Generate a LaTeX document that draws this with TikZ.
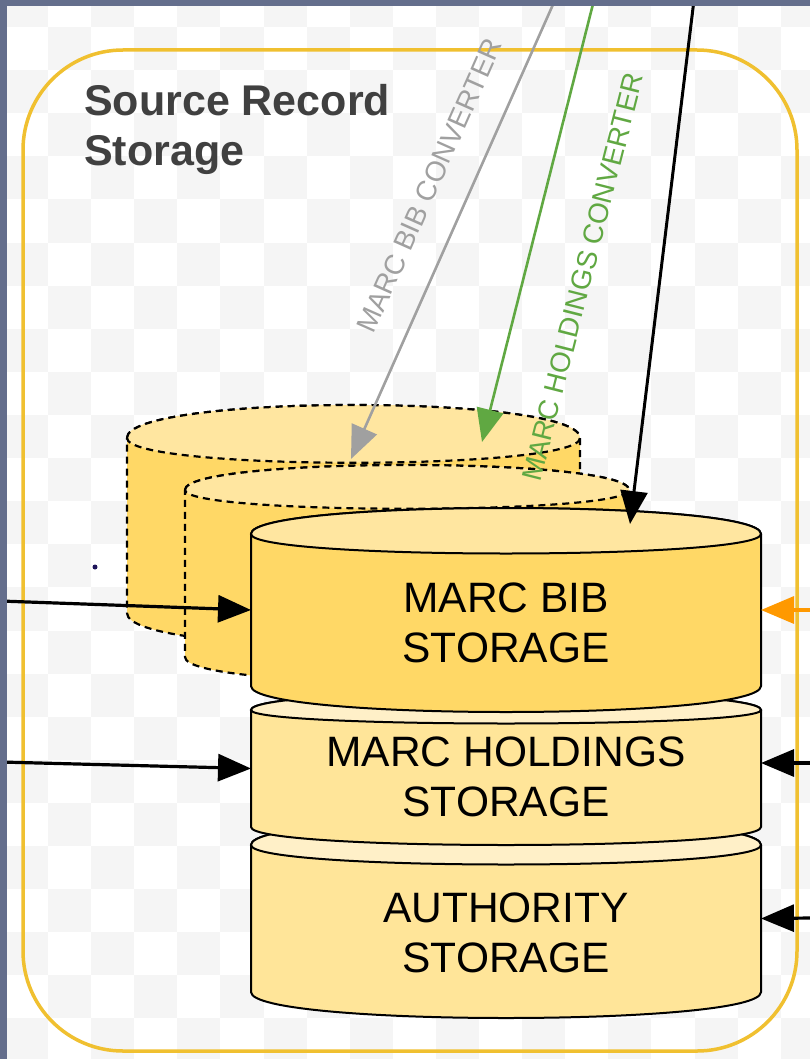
\documentclass[tikz,border=0pt]{standalone}
\usepackage{fontspec}
\setmainfont{Liberation Sans}
\usepackage{tikz}
\usetikzlibrary{arrows.meta,calc}

\definecolor{slate}{RGB}{100,110,140}
\definecolor{checker}{RGB}{245,245,245}
\definecolor{frameyellow}{RGB}{240,192,48}
\definecolor{bibbody}{RGB}{255,216,102}
\definecolor{bibtop}{RGB}{255,230,160}
\definecolor{storebody}{RGB}{255,229,153}
\definecolor{storetop}{RGB}{255,240,200}
\definecolor{convgray}{RGB}{160,160,160}
\definecolor{convgreen}{RGB}{96,168,66}
\definecolor{feedorange}{RGB}{255,153,0}
\definecolor{titlegray}{RGB}{64,64,64}
\definecolor{navy}{RGB}{30,20,90}

% cylinder: name, x, y, width, height, cap depth, line style, body fill, cap fill
\newcommand{\dbcyl}[9]{%
  \begin{scope}[shift={(#2,#3)}]
    \path[#7, fill=#8] (0,#6) .. controls (0,-#6/3) and (#4,-#6/3) .. (#4,#6)
      -- (#4,#5-#6) .. controls (#4,#5+#6/3) and (0,#5+#6/3) .. (0,#5-#6) -- cycle;
    \path[#7, fill=#9] (0,#6) .. controls (0,-#6/3) and (#4,-#6/3) .. (#4,#6)
      .. controls (#4,2*#6) and (0,2*#6) .. (0,#6) -- cycle;
    \node[cylbox, minimum width=#4pt, minimum height=#5pt] (#1) at (#4/2,#5/2) {};
  \end{scope}}

\begin{document}
\begin{tikzpicture}[x=1pt, y=-1pt,
    cylbox/.style = { inner sep=0pt, outer sep=0pt },
    cylline/.style = { draw=black, line width=2pt },
    ghostline/.style = { draw=black, line width=2.2pt, dash pattern=on 7pt off 5pt },
    srsframe/.style = { draw=frameyellow, line width=3.5pt, rounded corners=100pt },
    feed/.style = { line width=3.2pt, -{Triangle[length=33pt,width=27pt]} },
    storetext/.style = { align=center, font=\fontsize{42.5}{50}\selectfont },
    srstitle/.style = { align=left, inner sep=0pt, text=titlegray,
      font=\fontsize{43}{50}\selectfont\bfseries },
    convtext/.style = { sloped, inner sep=0pt, font=\fontsize{28}{30}\selectfont }]

  \useasboundingbox (0,0) rectangle (810,1059);
  \clip (0,0) rectangle (810,1059);

  % background
  \fill[white] (0,0) rectangle (810,1059);
  \foreach \c in {0,...,19} {
    \foreach \r in {0,...,25} {
      \pgfmathtruncatemacro\odd{mod(\c+\r,2)}
      \ifnum\odd=1
        \fill[checker] (4.9+43.1*\c-43.1,-16+43.1*\r) rectangle +(43.1,43.1);
      \fi
    }
  }

  \node[srsframe, minimum width=774pt, minimum height=1001pt] (srs) at (410,550.5) {};
  \node[srstitle, anchor=north west] (srsname) at (84,84) {Source Record\\Storage};

  % storages
  \dbcyl{back}{127}{405}{453}{241}{33}{ghostline}{bibbody}{bibtop}
  \dbcyl{mid}{185}{465}{444}{217}{25}{ghostline}{bibbody}{bibtop}
  \dbcyl{auth}{251}{819}{510}{199}{26}{cylline}{storebody}{storetop}
  \dbcyl{hold}{251}{692}{510}{153}{18}{cylline}{storebody}{storetop}
  \dbcyl{bib}{251}{508}{510}{204}{26}{cylline}{bibbody}{bibtop}

  \fill[navy] (95,567) circle (2.5pt);

  % incoming
  \coordinate (gin) at (555,0);
  \coordinate (hin) at (594,0);
  \coordinate (kin) at (694,0);
  \coordinate (lin1) at (0,601);
  \coordinate (lin2) at (0,762);
  \coordinate (rin1) at (812,610);
  \coordinate (rin2) at (812,763);
  \coordinate (rin3) at (812,918);

  \draw[feed, convgray, line width=2.6pt] (gin) --
    node[convtext, pos=0.439, above=28pt, text=convgray] {MARC BIB CONVERTER}
    ($(back.north)+(-2.5,54)$);
  \draw[feed, convgreen, line width=2.6pt] (hin) --
    node[convtext, pos=0.595, below=46pt, text=convgreen] {MARC HOLDINGS CONVERTER}
    ($(back.north)+(128.5,37)$);
  \draw[feed, line width=3pt] (kin) -- ($(bib.north)+(124,16)$);

  \draw[feed] (lin1) -- (bib.west);
  \draw[feed] (lin2) -- (hold.west);
  \draw[feed, feedorange] (rin1) -- (bib.east);
  \draw[feed] (rin2) -- ($(hold.east)+(0,-5.5)$);
  \draw[feed] (rin3) -- (auth.east);

  \node[storetext] (bibtxt) at ($(bib.center)+(0,13)$) {MARC BIB\\STORAGE};
  \node[storetext] (holdtxt) at ($(hold.center)+(0,8)$) {MARC HOLDINGS\\STORAGE};
  \node[storetext] (authtxt) at ($(auth.center)+(0,14)$) {AUTHORITY\\STORAGE};

  % window edge
  \fill[slate] (0,0) rectangle (810,6);
  \fill[slate] (0,0) rectangle (7,1059);

\end{tikzpicture}
\end{document}
